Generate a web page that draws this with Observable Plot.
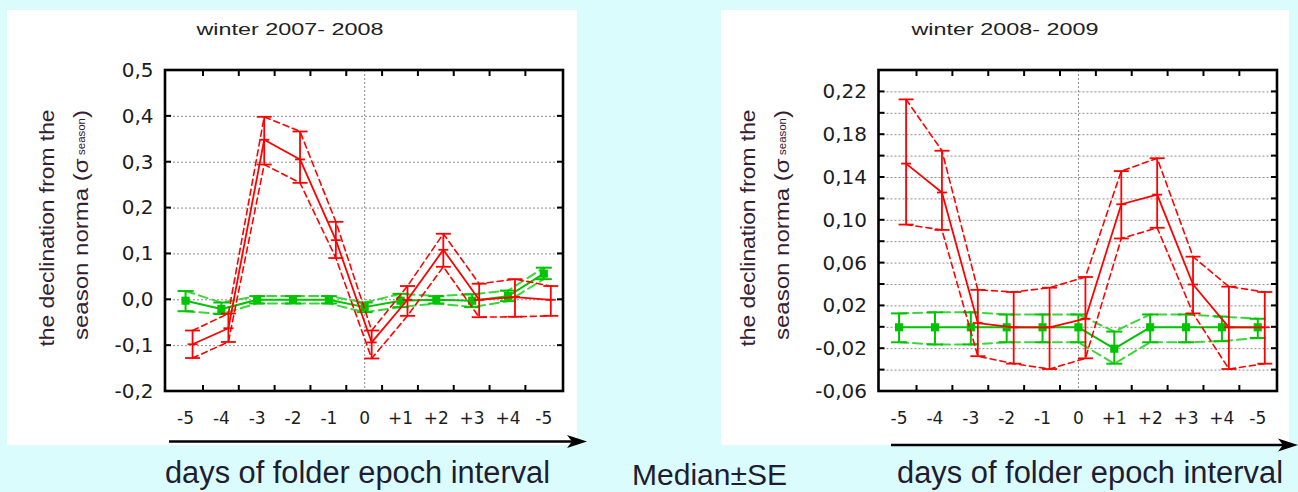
<!DOCTYPE html>
<html>
<head>
<meta charset="utf-8">
<script src="https://cdn.jsdelivr.net/npm/d3@7"></script>
<script src="https://cdn.jsdelivr.net/npm/@observablehq/plot@0.6"></script>
<style>
  html, body { margin: 0; padding: 0; }
  body { width: 1298px; height: 492px; background: #dbfcfd; position: relative; overflow: hidden; }
  .panel { position: absolute; background: #ffffff; }
  .chart { position: absolute; top: 0; }
  #overlay { position: absolute; left: 0; top: 0; }
</style>
</head>
<body>
<div class="panel" style="left:7px;top:10px;width:570px;height:435px"></div>
<div class="panel" style="left:721px;top:10px;width:568px;height:435px"></div>
<div id="c1" class="chart" style="left:0px;width:580px;height:445px"></div>
<div id="c2" class="chart" style="left:715px;width:583px;height:445px"></div>
<svg id="overlay" width="1298" height="492"></svg>
<script>
// ---------- data ----------
const days = ["-5", "-4", "-3", "-2", "-1", "0", "+1", "+2", "+3", "+4", "-5"];

const titleA = "winter 2007- 2008";
const titleB = "winter 2008- 2009";

const yLabelLine1 = "the declination from the";
const yLabelLine2 = "season norma (σ";
const yLabelSub = "season";
const yLabelEnd = ")";

const xLabel = "days of folder epoch interval";
const statLabel = "Median±SE";

// winter 2007-2008
const redMedA  = [-0.097, -0.062, 0.349, 0.306, 0.130, -0.093, 0.000, 0.109, 0.000, 0.006, 0.000];
const redHiA   = [-0.067, -0.030, 0.399, 0.367, 0.170, -0.067, 0.030, 0.144, 0.035, 0.045, 0.030];
const redLoA   = [-0.127, -0.092, 0.295, 0.255, 0.091, -0.128, -0.035, 0.072, -0.038, -0.037, -0.035];
const greenMedA = [-0.002, -0.020, 0.000, 0.000, 0.000, -0.016, -0.002, 0.000, -0.002, 0.008, 0.057];
const greenHiA  = [0.019, -0.006, 0.008, 0.008, 0.008, -0.006, 0.013, 0.008, 0.012, 0.020, 0.070];
const greenLoA  = [-0.025, -0.031, -0.008, -0.008, -0.008, -0.027, -0.016, -0.008, -0.016, -0.003, 0.045];
const yTicksA = [-0.2, -0.1, 0.0, 0.1, 0.2, 0.3, 0.4, 0.5];
const yGridA  = [-0.1, 0.0, 0.1, 0.2, 0.3, 0.4];
const yDomainA = [-0.2, 0.5];

// winter 2008-2009
const redMedB  = [0.153, 0.126, 0.004, 0.000, 0.000, 0.008, 0.115, 0.124, 0.040, 0.000, 0.000];
const redHiB   = [0.213, 0.165, 0.035, 0.033, 0.037, 0.047, 0.146, 0.158, 0.066, 0.038, 0.033];
const redLoB   = [0.096, 0.091, -0.027, -0.034, -0.039, -0.029, 0.083, 0.093, 0.013, -0.039, -0.034];
const greenMedB = [0.000, 0.000, 0.000, 0.000, 0.000, 0.000, -0.020, 0.000, 0.000, 0.000, 0.000];
const greenHiB  = [0.013, 0.014, 0.014, 0.012, 0.012, 0.012, -0.004, 0.012, 0.012, 0.010, 0.008];
const greenLoB  = [-0.014, -0.016, -0.016, -0.014, -0.014, -0.014, -0.034, -0.014, -0.014, -0.013, -0.010];
const yTicksB = [-0.06, -0.02, 0.02, 0.06, 0.10, 0.14, 0.18, 0.22];
const yGridB  = [-0.04, -0.02, 0.00, 0.02, 0.04, 0.06, 0.08, 0.10, 0.12, 0.14, 0.16, 0.18, 0.20, 0.22];
const yDomainB = [-0.06, 0.24];

// ---------- styles ----------
const RED = "#ff0000";
const GREEN = "#00c400";
const GREEN_DASH = "#3cd63c";
const GRID = "#8c8c8c";
const TICKTEXT = "#1c1c1c";
const LABEL = "#352030";

const capSymbol = {
  draw(ctx, size) {
    const w = Math.sqrt(size / Math.PI);
    ctx.moveTo(-w, 0);
    ctx.lineTo(w, 0);
  }
};

function makeChart(cfg) {
  const idx = days.map((d, i) => i);
  const half = idx.slice(0, -1).map(i => i + 0.5);
  const zeroIndex = days.indexOf("0");
  const red = days.map((d, i) => ({i, med: cfg.redMed[i], hi: cfg.redHi[i], lo: cfg.redLo[i]}));
  const green = days.map((d, i) => ({i, med: cfg.greenMed[i], hi: cfg.greenHi[i], lo: cfg.greenLo[i]}));
  const RDX = 7;
  const H = 445, MT = 70, MB = 54;
  const svg = Plot.plot({
    width: cfg.width,
    height: H,
    marginLeft: cfg.ml,
    marginRight: cfg.mr,
    marginTop: MT,
    marginBottom: MB,
    style: {background: "transparent", fontFamily: "DejaVu Sans, sans-serif", overflow: "visible", color: "#000"},
    x: {domain: [-0.56, 10.55], label: null},
    y: {domain: cfg.yDomain, label: null},
    marks: [
      Plot.gridY({ticks: cfg.grid, stroke: GRID, strokeOpacity: 1, strokeDasharray: "2,2"}),
      Plot.gridX({ticks: [zeroIndex], stroke: GRID, strokeOpacity: 1, strokeDasharray: "2,2"}),
      Plot.axisY({ticks: cfg.ticks, tickSize: 0, tickPadding: 12, tickFormat: cfg.fmt, fontSize: 20, fill: TICKTEXT, label: null}),
      Plot.axisX({ticks: idx, tickSize: 0, tickPadding: 20, tickFormat: i => days[i], fontSize: 17, fill: TICKTEXT, label: null}),
      // green series
      Plot.line(green, {x: "i", y: "hi", stroke: GREEN_DASH, strokeWidth: 2, strokeDasharray: "9,5"}),
      Plot.line(green, {x: "i", y: "lo", stroke: GREEN_DASH, strokeWidth: 2, strokeDasharray: "9,5"}),
      Plot.line(green, {x: "i", y: "med", stroke: GREEN, strokeWidth: 2}),
      Plot.ruleX(green, {x: "i", y1: "lo", y2: "hi", stroke: GREEN, strokeWidth: 2}),
      Plot.dot(green, {x: "i", y: "hi", symbol: capSymbol, r: 8, stroke: GREEN, strokeWidth: 2, fill: "none"}),
      Plot.dot(green, {x: "i", y: "lo", symbol: capSymbol, r: 8, stroke: GREEN, strokeWidth: 2, fill: "none"}),
      Plot.dot(green, {x: "i", y: "med", symbol: "square", r: 4.6, fill: GREEN, stroke: "none"}),
      // red series
      Plot.line(red, {x: "i", y: "hi", stroke: RED, strokeWidth: 1.6, strokeDasharray: "6,4", dx: RDX}),
      Plot.line(red, {x: "i", y: "lo", stroke: RED, strokeWidth: 1.6, strokeDasharray: "6,4", dx: RDX}),
      Plot.line(red, {x: "i", y: "med", stroke: RED, strokeWidth: 1.8, dx: RDX}),
      Plot.ruleX(red, {x: "i", y1: "lo", y2: "hi", stroke: RED, strokeWidth: 1.8, dx: RDX}),
      Plot.dot(red, {x: "i", y: "hi", symbol: capSymbol, r: 7.5, stroke: RED, strokeWidth: 1.8, fill: "none", dx: RDX}),
      Plot.dot(red, {x: "i", y: "lo", symbol: capSymbol, r: 7.5, stroke: RED, strokeWidth: 1.8, fill: "none", dx: RDX}),
      Plot.dot(red, {x: "i", y: "med", symbol: capSymbol, r: 5, stroke: RED, strokeWidth: 1.8, fill: "none", dx: RDX})
    ]
  });
  const s = d3.select(svg);
  const sx = svg.scale("x"), sy = svg.scale("y");
  const x0 = cfg.ml, x1 = cfg.width - cfg.mr, y0 = MT, y1 = H - MB;
  // frame with inward ticks (positions from Plot's scales)
  const fr = s.append("g").attr("stroke", "#000").attr("fill", "none");
  half.forEach(v => {
    const px = sx.apply(v);
    fr.append("line").attr("x1", px).attr("x2", px).attr("y1", y0).attr("y2", y0 + 6).attr("stroke-width", 2);
    fr.append("line").attr("x1", px).attr("x2", px).attr("y1", y1).attr("y2", y1 - 6).attr("stroke-width", 2);
  });
  cfg.grid.forEach(v => {
    const py = sy.apply(v);
    fr.append("line").attr("x1", x0).attr("x2", x0 + 6).attr("y1", py).attr("y2", py).attr("stroke-width", 2);
    fr.append("line").attr("x1", x1).attr("x2", x1 - 6).attr("y1", py).attr("y2", py).attr("stroke-width", 2);
  });
  fr.append("rect").attr("x", x0).attr("y", y0).attr("width", x1 - x0).attr("height", y1 - y0).attr("stroke-width", 2.6);
  // title
  s.append("text")
    .attr("x", 290).attr("y", 35)
    .attr("text-anchor", "middle")
    .attr("font-family", "Liberation Sans, Arial, sans-serif")
    .attr("font-size", 17)
    .attr("fill", "#222")
    .attr("textLength", 187).attr("lengthAdjust", "spacingAndGlyphs")
    .text(cfg.title);
  // y label (two lines, rotated)
  const g = s.append("g").attr("fill", LABEL).attr("font-family", "Liberation Sans, Arial, sans-serif");
  g.append("text")
    .attr("transform", `translate(${cfg.lab1},228) rotate(-90)`)
    .attr("text-anchor", "middle").attr("font-size", 21)
    .attr("textLength", 237).attr("lengthAdjust", "spacingAndGlyphs")
    .text(yLabelLine1);
  const t = g.append("text")
    .attr("transform", `translate(${cfg.lab2},225) rotate(-90)`)
    .attr("text-anchor", "middle").attr("font-size", 21)
    .attr("textLength", 230).attr("lengthAdjust", "spacingAndGlyphs");
  t.append("tspan").text(yLabelLine2);
  t.append("tspan").attr("font-size", 10).attr("dx", 3).attr("dy", -3).text(yLabelSub);
  t.append("tspan").attr("dy", 3).text(yLabelEnd);
  return svg;
}

const fmt1 = d => d.toFixed(1).replace(".", ",");
const fmt2 = d => d.toFixed(2).replace(".", ",");

document.getElementById("c1").appendChild(makeChart({
  width: 580, ml: 165, mr: 17, yDomain: yDomainA, ticks: yTicksA, grid: yGridA, fmt: fmt1,
  redMed: redMedA, redHi: redHiA, redLo: redLoA,
  greenMed: greenMedA, greenHi: greenHiA, greenLo: greenLoA,
  title: titleA, lab1: 53.5, lab2: 88
}));
document.getElementById("c2").appendChild(makeChart({
  width: 583, ml: 163.5, mr: 21, yDomain: yDomainB, ticks: yTicksB, grid: yGridB, fmt: fmt2,
  redMed: redMedB, redHi: redHiB, redLo: redLoB,
  greenMed: greenMedB, greenHi: greenHiB, greenLo: greenLoB,
  title: titleB, lab1: 40, lab2: 74
}));

// ---------- arrows and bottom labels ----------
const ov = d3.select("#overlay");
function arrow(x1, x2, y) {
  ov.append("line").attr("x1", x1).attr("x2", x2 - 14).attr("y1", y).attr("y2", y)
    .attr("stroke", "#000").attr("stroke-width", 2.5);
  ov.append("path")
    .attr("d", `M${x2},${y} L${x2 - 20},${y - 6.5} L${x2 - 15},${y} L${x2 - 20},${y + 6.5} Z`)
    .attr("fill", "#000");
}
arrow(169, 587, 441.5);
arrow(891, 1298, 445);

const bottom = ov.append("g").attr("font-family", "Liberation Sans, Arial, sans-serif").attr("fill", "#221c30");
bottom.append("text").attr("x", 165).attr("y", 483).attr("font-size", 31).attr("textLength", 385).attr("lengthAdjust", "spacingAndGlyphs").text(xLabel);
bottom.append("text").attr("x", 897).attr("y", 483).attr("font-size", 31).attr("textLength", 386).attr("lengthAdjust", "spacingAndGlyphs").text(xLabel);
bottom.append("text").attr("x", 632).attr("y", 485).attr("font-size", 30).attr("textLength", 155).attr("lengthAdjust", "spacingAndGlyphs").text(statLabel);
</script>
</body>
</html>
